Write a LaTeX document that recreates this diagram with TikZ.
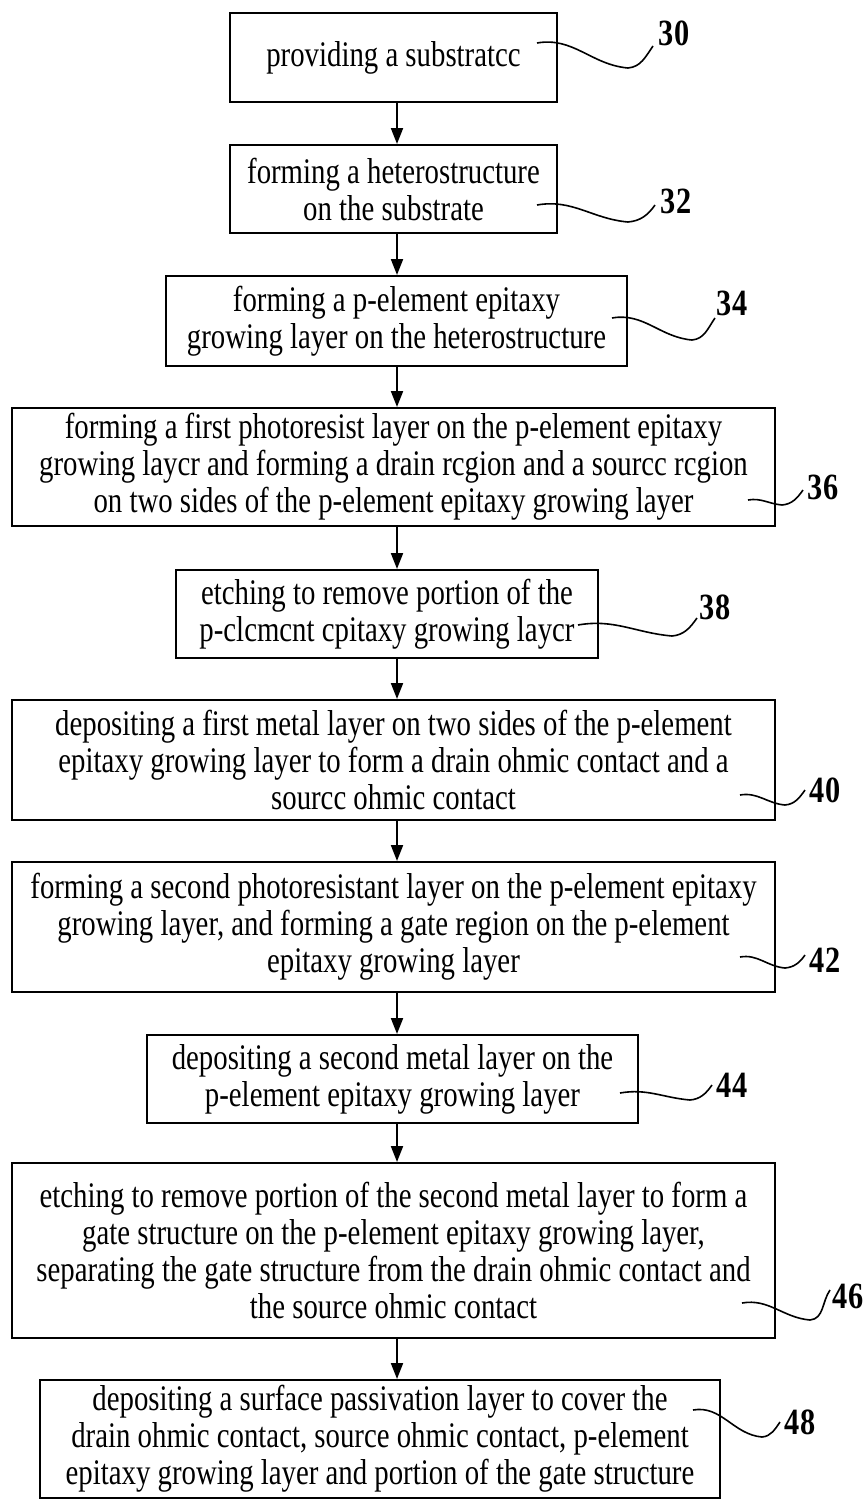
\documentclass[tikz,border=0pt]{standalone}
\usepackage{fontspec}
\usepackage{tikz}
\usetikzlibrary{arrows.meta,calc}
\newfontfamily\stepfont[FakeStretch=0.8]{Liberation Serif}
\newfontfamily\numfont[FakeStretch=0.82]{Liberation Serif}

\tikzset{
  stepbox/.style={draw, line width=1pt, align=center, inner sep=0pt,
    font=\stepfont\fontsize{18}{18.5}\selectfont},
  flow/.style={line width=1pt, -{Triangle[length=8pt,width=6pt]}},
  leader/.style={line width=0.8pt},
  num/.style={font=\numfont\bfseries\fontsize{18.5}{18.5}\selectfont, inner sep=0pt}
}

\begin{document}
\begin{tikzpicture}[x=0.5pt,y=-0.5pt]
	\useasboundingbox (0,0) rectangle (865,1500);
	\coordinate (col) at (397,0);
	%
	\node[stepbox, minimum width=163.5pt, minimum height=44.5pt] (b30) at (393.5,57.5) {providing a substratcc};
	\node[stepbox, minimum width=163.5pt, minimum height=44pt] (b32) at (393.5,189) {forming a heterostructure\\on the substrate};
	\node[stepbox, minimum width=230.5pt, minimum height=45pt] (b34) at (396.5,321) {forming a p-element epitaxy\\growing layer on the heterostructure};
	\node[stepbox, minimum width=381.5pt, minimum height=59pt] (b36) at (393.5,467) {forming a first photoresist layer on the p-element epitaxy\\growing laycr and forming a drain rcgion and a sourcc rcgion\\on two sides of the p-element epitaxy growing layer};
	\node[stepbox, minimum width=211pt, minimum height=44pt] (b38) at (387,614) {etching to remove portion of the\\p-clcmcnt cpitaxy growing laycr};
	\node[stepbox, minimum width=381.5pt, minimum height=60pt] (b40) at (393.5,760) {depositing a first metal layer on two sides of the p-element\\epitaxy growing layer to form a drain ohmic contact and a\\sourcc ohmic contact};
	\node[stepbox, minimum width=381.5pt, minimum height=65pt] (b42) at (393.5,927) {forming a second photoresistant layer on the p-element epitaxy\\growing layer, and forming a gate region on the p-element\\epitaxy growing layer};
	\node[stepbox, minimum width=245.5pt, minimum height=44pt] (b44) at (392.5,1079) {depositing a second metal layer on the\\p-element epitaxy growing layer};
	\node[stepbox, minimum width=381.5pt, minimum height=87.5pt] (b46) at (393.5,1250.5) {etching to remove portion of the second metal layer to form a\\gate structure on the p-element epitaxy growing layer,\\separating the gate structure from the drain ohmic contact and\\the source ohmic contact};
	\node[stepbox, minimum width=340pt, minimum height=59pt] (b48) at (380,1439) {depositing a surface passivation layer to cover the\\drain ohmic contact, source ohmic contact, p-element\\epitaxy growing layer and portion of the gate structure};
	%
	\foreach \a/\b in {b30/b32,b32/b34,b34/b36,b36/b38,b38/b40,b40/b42,b42/b44,b44/b46,b46/b48}
		\draw[flow] (\a.south -| col) -- (\b.north -| col);
	%
	\foreach \n/\sx/\sy/\tx/\ty/\ex/\ey/\lx/\ly in {30/537/43/628/68/653/46/674/33, 32/537/205/628/222/655/205/676/201,
		34/612/318/692/340/715/318/732/303, 36/748/500/782/505/803/490/823/487,
		38/578/625/672/636/697/618/715/607, 40/740/795/785/805/805/790/825/790,
		42/740/957/785/968/805/955/825/960, 44/620/1093/690/1100/712/1085/732/1085,
		46/742/1303/810/1320/830/1290/848/1296, 48/693/1410/762/1437/780/1422/800/1422}
	{
		\coordinate (s\n) at (\sx,\sy);
		\coordinate (t\n) at (\tx,\ty);
		\coordinate (e\n) at (\ex,\ey);
		\draw[leader] (s\n) to[out=10,in=175] (t\n) to[out=5,in=235] (e\n);
		\node[num] (n\n) at (\lx,\ly) {\n};
	}
\end{tikzpicture}
\end{document}
